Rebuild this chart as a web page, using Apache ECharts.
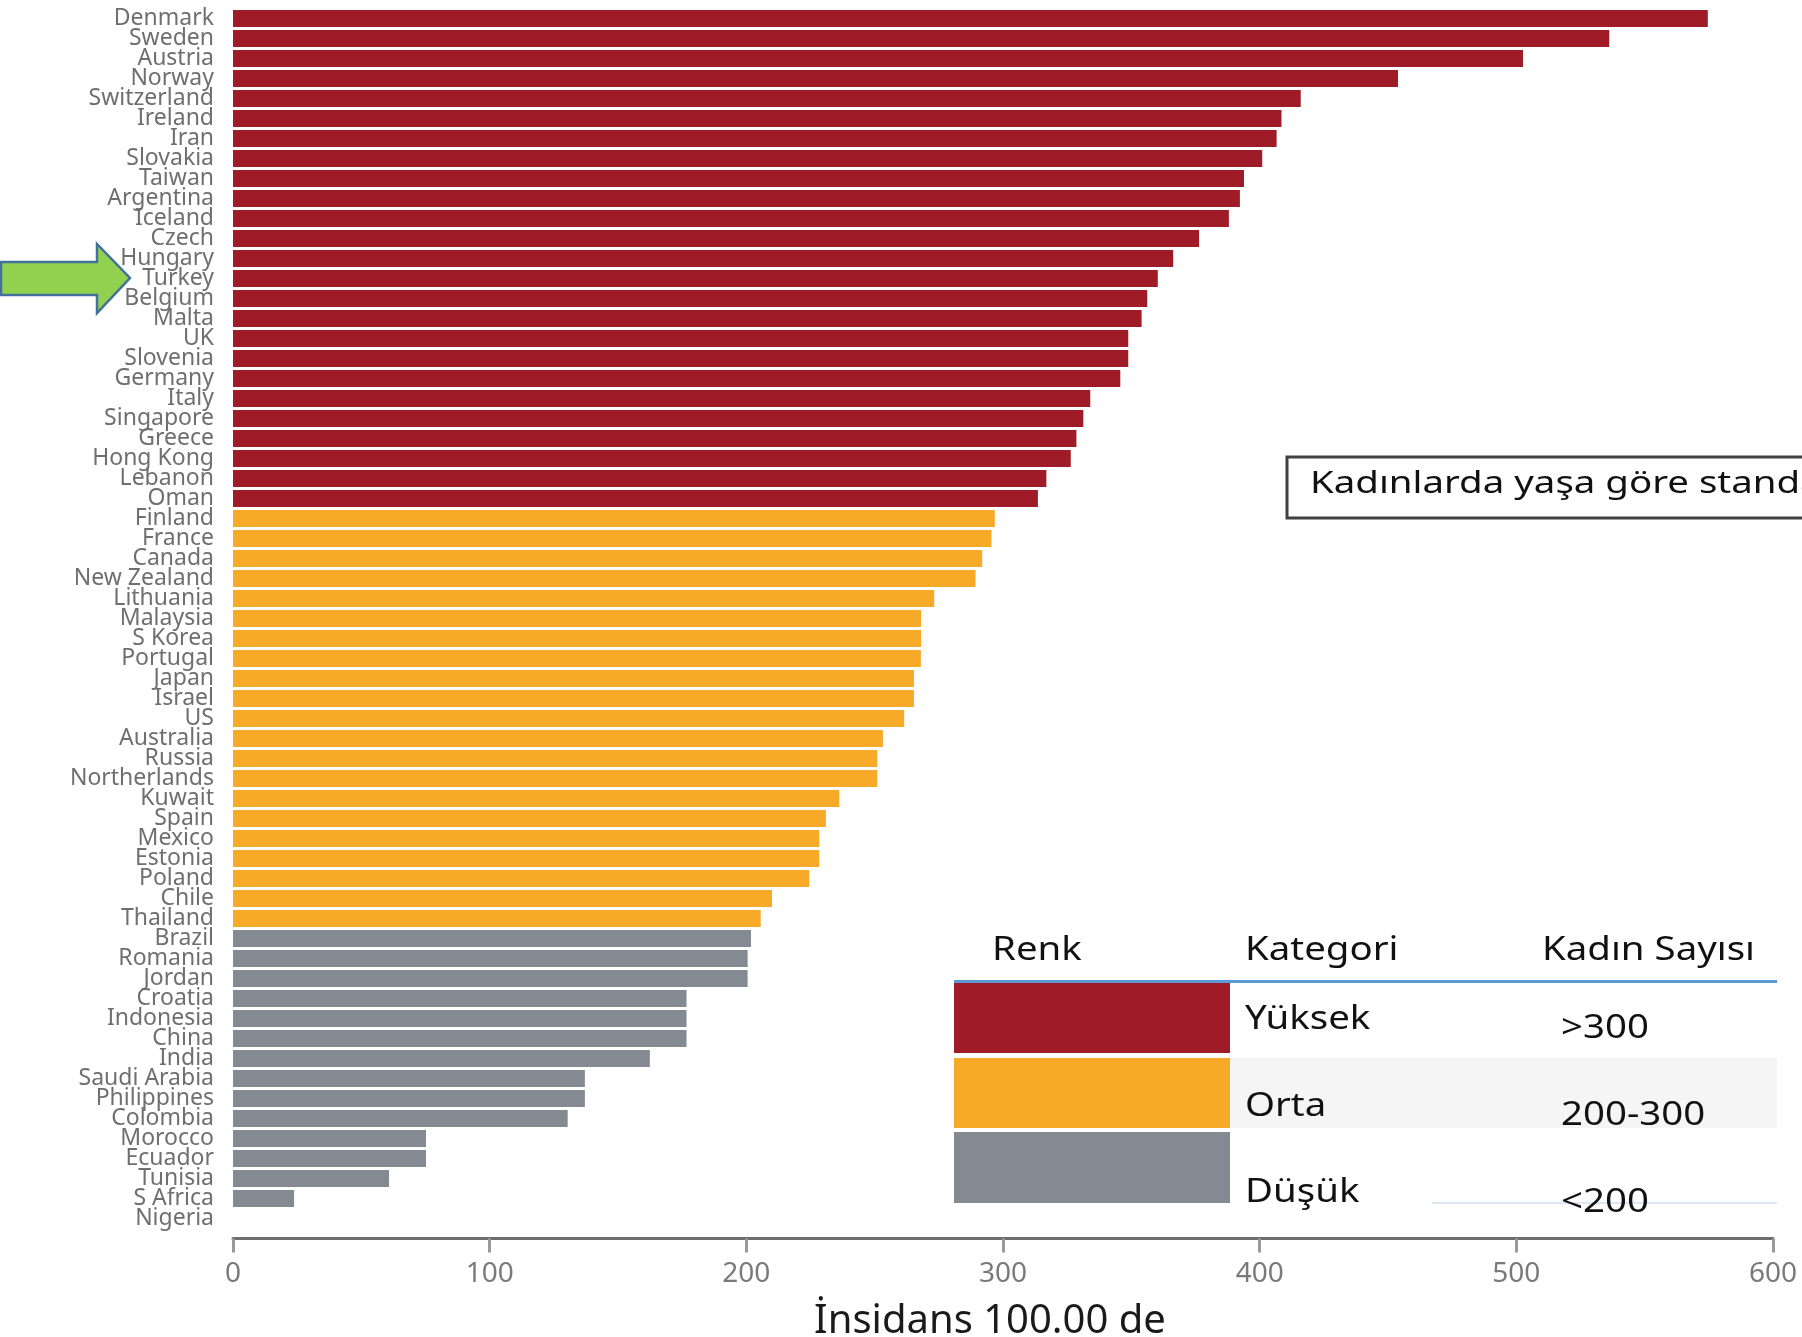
<!DOCTYPE html>
<html>
<head>
<meta charset="utf-8">
<title>İnsidans</title>
<script src="https://cdn.jsdelivr.net/npm/echarts@6/dist/echarts.min.js"></script>
<style>
  html, body { margin: 0; padding: 0; background: #fff; }
  #chart { width: 1802px; height: 1337px; }
</style>
</head>
<body>
<div id="chart"></div>
<script>
const countries = [
  'Denmark', 'Sweden', 'Austria', 'Norway', 'Switzerland', 'Ireland', 'Iran', 'Slovakia',
  'Taiwan', 'Argentina', 'Iceland', 'Czech', 'Hungary', 'Turkey', 'Belgium', 'Malta', 'UK',
  'Slovenia', 'Germany', 'Italy', 'Singapore', 'Greece', 'Hong Kong', 'Lebanon', 'Oman',
  'Finland', 'France', 'Canada', 'New Zealand', 'Lithuania', 'Malaysia', 'S Korea', 'Portugal',
  'Japan', 'Israel', 'US', 'Australia', 'Russia', 'Northerlands', 'Kuwait', 'Spain', 'Mexico',
  'Estonia', 'Poland', 'Chile', 'Thailand',
  'Brazil', 'Romania', 'Jordan', 'Croatia', 'Indonesia', 'China', 'India', 'Saudi Arabia',
  'Philippines', 'Colombia', 'Morocco', 'Ecuador', 'Tunisia', 'S Africa', 'Nigeria'
]
const values = [
  574.6, 536.2, 502.6, 453.9, 416.0, 408.5, 406.6, 401.0,
  393.9, 392.3, 388.0, 376.4, 366.3, 360.3, 356.2, 354.0, 348.8,
  348.8, 345.7, 334.0, 331.3, 328.6, 326.4, 316.9, 313.6,
  296.8, 295.5, 291.9, 289.3, 273.2, 268.1, 268.1, 268.0,
  265.3, 265.3, 261.5, 253.2, 251.0, 251.0, 236.2, 231.0, 228.4,
  228.4, 224.5, 210.0, 205.6,
  201.8, 200.5, 200.5, 176.7, 176.7, 176.7, 162.4, 137.1,
  137.1, 130.4, 75.2, 75.2, 60.8, 23.8, 0
]
// how many countries fall in each colour group, top to bottom
const groupSizes = [25, 21, 15]
const groupNames = ['Yüksek', 'Orta', 'Düşük']
const groupRanges = ['>300', '200-300', '<200']
const groupColors = ['#9e1b27', '#f7a928', '#848a91']
const xTickLabels = [0, 100, 200, 300, 400, 500, 600]

const FONT = "'Noto Sans', sans-serif"

function groupOf(i) {
  let acc = 0
  for (let g = 0; g < groupSizes.length; g++) {
    acc += groupSizes[g]
    if (i < acc) return g
  }
  return groupSizes.length - 1
}

const barData = values.map((v, i) => ({
  value: v,
  itemStyle: { color: groupColors[groupOf(i)] }
}))

// legend table (Renk / Kategori / Kadın Sayısı)
const rowTops = [983, 1058, 1132]
const rowHeights = [70, 70, 71]
const legendTexts = []
function ltext(x, y, text) {
  legendTexts.push({
    type: 'text', x: x, y: y, scaleX: 1.2, z: 10,
    style: { text: text, fontSize: 32, fontFamily: FONT, fill: '#111', verticalAlign: 'middle' }
  })
}
ltext(992, 951, 'Renk')
ltext(1245, 951, 'Kategori')
ltext(1542, 951, 'Kadın Sayısı')
const catY = [1020, 1107, 1193]
const rangeY = [1029, 1116, 1203]
const tableRects = []
groupNames.forEach((name, g) => {
  if (g === 1) {
    tableRects.push({
      type: 'rect', z: 5,
      shape: { x: 1231, y: rowTops[g], width: 546, height: rowHeights[g] },
      style: { fill: '#f5f5f5' }
    })
  }
  tableRects.push({
    type: 'rect', z: 6,
    shape: { x: 954, y: rowTops[g], width: 276, height: rowHeights[g] },
    style: { fill: groupColors[g] }
  })
  ltext(1245, catY[g], name)
  ltext(1561, rangeY[g], groupRanges[g])
})

const chart = echarts.init(document.getElementById('chart'))
chart.setOption({
  animation: false,
  backgroundColor: '#fff',
  grid: { left: 233, top: 8.5, width: 1540, height: 1220, outerBoundsMode: 'none' },
  xAxis: {
    type: 'value',
    min: 0,
    max: 600,
    interval: 100,
    offset: 10,
    name: 'İnsidans 100.00 de',
    nameLocation: 'middle',
    nameGap: 63,
    nameTextStyle: { fontSize: 40, fontFamily: FONT, color: '#1a1a1a', padding: [0, 26, 0, 0] },
    axisLine: { show: true, lineStyle: { color: '#6f6f6f', width: 3 } },
    axisTick: { show: true, length: 14, lineStyle: { color: '#9a9a9a', width: 3 } },
    axisLabel: {
      fontSize: 28, fontFamily: FONT, color: '#7a7a7a', margin: 22,
      formatter: v => xTickLabels.includes(v) ? String(v) : ''
    },
    splitLine: { show: false }
  },
  yAxis: {
    type: 'category',
    data: countries,
    inverse: true,
    axisLine: { show: false },
    axisTick: { show: false },
    axisLabel: { fontSize: 23, fontFamily: FONT, color: '#6f6f6f', margin: 19, interval: 0 }
  },
  series: [{
    type: 'bar',
    data: barData,
    barCategoryGap: '15%'
  }],
  graphic: [
    // green arrow pointing at Turkey
    {
      type: 'polygon', z: 10,
      shape: { points: [[1, 262], [97, 262], [97, 244], [130, 278], [97, 313], [97, 295], [1, 295]] },
      style: { fill: '#92d050', stroke: '#41719c', lineWidth: 2.5 }
    },
    // caption box, cut by the right edge
    {
      type: 'rect', z: 10,
      shape: { x: 1287, y: 457, width: 600, height: 61 },
      style: { fill: '#fff', stroke: '#404040', lineWidth: 3 }
    },
    {
      type: 'text', x: 1310, y: 484, z: 11, scaleX: 1.28,
      style: {
        text: 'Kadınlarda yaşa göre standardize edilmiş meme kanseri insidansı',
        fontSize: 30, fontFamily: FONT, fill: '#111', verticalAlign: 'middle'
      }
    },
    // table lines
    {
      type: 'line', z: 7,
      shape: { x1: 954, y1: 981.5, x2: 1777, y2: 981.5 },
      style: { stroke: '#5b9bd5', lineWidth: 3 }
    },
    {
      type: 'line', z: 7,
      shape: { x1: 1432, y1: 1203, x2: 1777, y2: 1203 },
      style: { stroke: '#dde8f3', lineWidth: 2 }
    }
  ].concat(tableRects, legendTexts)
})
</script>
</body>
</html>
